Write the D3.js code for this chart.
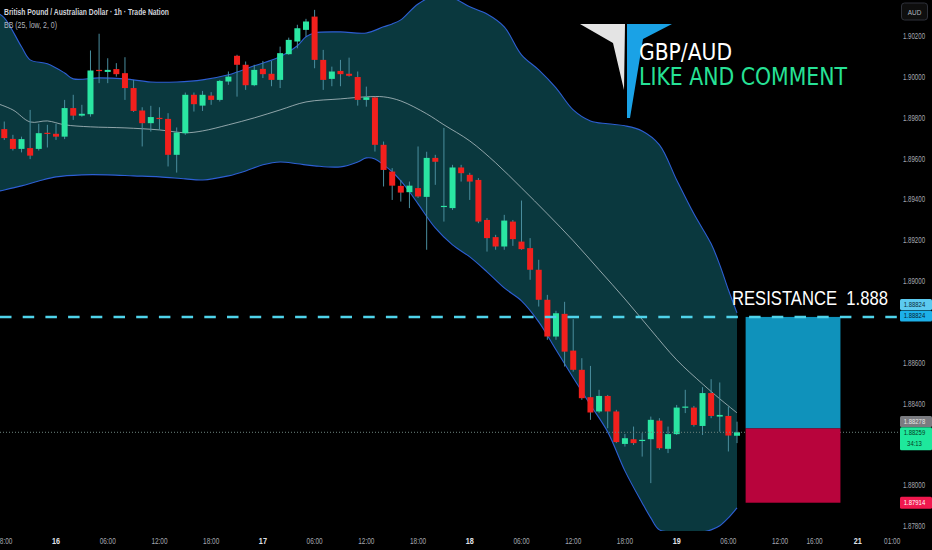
<!DOCTYPE html>
<html>
<head>
<meta charset="utf-8">
<script src="https://cdn.jsdelivr.net/npm/d3@7"></script>
<style>
  html, body { margin: 0; padding: 0; background: #000; overflow: hidden; }
  .canvas svg { display: block; }
</style>
</head>
<body>
<div class="canvas"></div>
<script>
// bars: hour index from Sep 16 00:00 (first bar is 15th 18:00)
const firstBar = -6;
const openP = [1.89744,1.89696,1.89647,1.89651,1.89647,1.89726,1.89721,1.89707,1.89847,1.89810,
  1.89817,1.90034,1.90024,1.90038,1.90018,1.89945,1.89835,1.89773,1.89799,1.89794,
  1.89618,1.89724,1.89912,1.89859,1.89908,1.89887,1.89977,1.90103,1.90059,1.89959,
  1.90039,1.90015,1.89985,1.90111,1.90173,1.90230,1.90295,1.90083,1.89990,1.90029,
  1.90015,1.89999,1.89887,1.89899,1.89667,1.89536,1.89466,1.89435,1.89455,1.89412,
  1.89603,1.89365,1.89357,1.89556,1.89520,1.89495,1.89299,1.89215,1.89169,1.89291,
  1.89193,1.89161,1.89055,1.88908,1.88728,1.88839,1.88659,1.88565,1.88431,1.88361,
  1.88437,1.88361,1.88202,1.88225,1.88217,1.88225,1.88316,1.88178,1.88250,1.88380,
  1.88380,1.88290,1.88451,1.88336,1.88339,1.88242];
const highP = [1.89781,1.89716,1.89707,1.89838,1.89770,1.89765,1.89770,1.89887,1.89912,1.89863,
  1.90129,1.90211,1.90091,1.90067,1.90096,1.89985,1.89851,1.89858,1.89851,1.89822,
  1.89752,1.89923,1.89923,1.89931,1.89925,1.89985,1.90026,1.90108,1.90075,1.90059,
  1.90078,1.90078,1.90148,1.90192,1.90255,1.90284,1.90328,1.90132,1.90050,1.90083,
  1.90094,1.90026,1.89952,1.89903,1.89683,1.89553,1.89495,1.89487,1.89659,1.89633,
  1.89618,1.89750,1.89569,1.89569,1.89530,1.89504,1.89308,1.89226,1.89324,1.89299,
  1.89394,1.89210,1.89104,1.88932,1.88854,1.88898,1.88813,1.88622,1.88584,1.88467,
  1.88442,1.88369,1.88251,1.88287,1.88255,1.88336,1.88328,1.88287,1.88393,1.88467,
  1.88388,1.88480,1.88519,1.88503,1.88385,1.88311];
const lowP = [1.89691,1.89639,1.89630,1.89597,1.89639,1.89654,1.89691,1.89695,1.89789,1.89805,
  1.89805,1.89969,1.89969,1.90001,1.89887,1.89828,1.89659,1.89732,1.89740,1.89561,
  1.89531,1.89716,1.89830,1.89833,1.89863,1.89879,1.89961,1.89903,1.89936,1.89954,
  1.89994,1.89954,1.89945,1.90108,1.90140,1.90197,1.90042,1.89936,1.89954,1.89954,
  1.90001,1.89859,1.89854,1.89634,1.89463,1.89397,1.89389,1.89357,1.89407,1.89153,
  1.89471,1.89291,1.89348,1.89487,1.89397,1.89283,1.89144,1.89153,1.89153,1.89172,
  1.89153,1.89006,1.88875,1.88712,1.88712,1.88581,1.88556,1.88418,1.88320,1.88353,
  1.88279,1.88206,1.88189,1.88197,1.88140,1.88010,1.88173,1.88157,1.88246,1.88353,
  1.88287,1.88246,1.88328,1.88262,1.88165,1.88206];
const closeP = [1.89700,1.89647,1.89695,1.89614,1.89724,1.89721,1.89707,1.89847,1.89810,1.89819,
  1.90031,1.90029,1.90034,1.90013,1.89945,1.89833,1.89773,1.89803,1.89794,1.89618,
  1.89727,1.89912,1.89866,1.89912,1.89887,1.89980,1.90001,1.90059,1.89959,1.90034,
  1.90013,1.89985,1.90116,1.90181,1.90238,1.90271,1.90083,1.89985,1.90026,1.90013,
  1.90005,1.89887,1.89900,1.89667,1.89544,1.89467,1.89433,1.89467,1.89414,1.89603,
  1.89584,1.89368,1.89556,1.89528,1.89487,1.89291,1.89210,1.89169,1.89296,1.89205,
  1.89156,1.89055,1.88908,1.88728,1.88842,1.88654,1.88565,1.88426,1.88356,1.88437,
  1.88361,1.88211,1.88230,1.88206,1.88222,1.88320,1.88181,1.88250,1.88380,1.88385,
  1.88295,1.88451,1.88339,1.88344,1.88243,1.88259];

// Bollinger bands (25, low, 2)
const bbUpperBars = [-7,-6,-4,-3,-1,1,2,5,8,11,14,17,20,23,26,28,29,30,33,36,38,39,40,42,44,46,48,50,52,54,56,58,60,62,64,66,68,70,72,74,76,77,78,79];
const bbUpper = [1.90318,1.90289,1.90147,1.90083,1.90064,1.90019,1.89990,1.89995,1.89990,1.89975,
  1.89975,1.89985,1.90010,1.90054,1.90098,1.90152,1.90196,1.90215,1.90220,1.90215,
  1.90245,1.90259,1.90279,1.90357,1.90397,1.90387,1.90343,1.90308,1.90245,1.90108,
  1.90034,1.89946,1.89838,1.89784,1.89770,1.89760,1.89735,1.89667,1.89495,1.89329,
  1.89182,1.89079,1.88957,1.88844];
const bbLowerBars = [-7,-6,-4,-2,0,3,6,9,12,15,17,20,22,24,26,28,30,33,35,36,37,38,39,40,41,42,44,46,48,50,52,54,56,58,60,62,64,66,68,69,70,72,75,76,77,78,79];
const bbLower = [1.89437,1.89446,1.89466,1.89490,1.89510,1.89520,1.89520,1.89515,1.89510,1.89500,
  1.89495,1.89515,1.89539,1.89569,1.89583,1.89574,1.89564,1.89559,1.89583,1.89603,
  1.89598,1.89569,1.89535,1.89490,1.89437,1.89378,1.89260,1.89177,1.89118,1.89045,
  1.88966,1.88903,1.88800,1.88663,1.88526,1.88393,1.88261,1.88070,1.87913,1.87840,
  1.87781,1.87771,1.87771,1.87781,1.87801,1.87840,1.87889];
const bbBasisBars = [-7,-5,-3,-1,1,4,8,12,15,17,20,23,26,29,33,36,38,40,43,45,48,51,54,57,60,63,66,69,72,75,77,79];
const bbBasis = [1.89872,1.89838,1.89779,1.89784,1.89765,1.89755,1.89750,1.89740,1.89726,1.89735,
  1.89765,1.89799,1.89838,1.89877,1.89892,1.89902,1.89902,1.89882,1.89819,1.89765,
  1.89686,1.89579,1.89456,1.89329,1.89197,1.89055,1.88912,1.88761,1.88614,1.88496,
  1.88423,1.88354];

// axis ticks
const priceTicks = [1.902,1.900,1.898,1.896,1.894,1.892,1.890,1.888,1.886,1.884,1.882,1.880,1.878];
const timeTickBars = [-6,0,6,12,18,24,30,36,42,48,54,60,66,72,78,84,88,93,97];
const timeTickLabels = ['18:00','16','06:00','12:00','18:00','17','06:00','12:00','18:00','18','06:00','12:00','18:00','19','06:00','12:00','16:00','21','01:00'];
const dayLabels = ['16','17','18','19','21'];

// drawings
const resistance = 1.88824;
const lastPrice = 1.88259;
const entryPrice = 1.88278;
const stopPrice = 1.87914;
const posStartBar = 80;
const posEndBar = 91;

const svg = d3.select('.canvas')
  .append('svg')
  .attr('width', 932)
  .attr('height', 550)
  .style('font-family', "'Liberation Sans', Arial, sans-serif");

svg.append('rect').attr('width', 932).attr('height', 550).attr('fill', '#000');

// dimensions
const plotWidth = 898;
const plotHeight = 531;

// scales
const x = d3.scaleLinear().domain([0, 79]).range([56, 737]);
const y = d3.scaleLinear().domain([1.878, 1.902]).range([526, 36]);

svg.append('clipPath').attr('id', 'plot')
  .append('rect').attr('width', plotWidth).attr('height', plotHeight);

const graph = svg.append('g').attr('clip-path', 'url(#plot)');

// narrow text (the screenshot is squeezed horizontally)
const narrowText = (parent, cx, cy, k, str) => parent.append('g')
  .attr('transform', `translate(${cx},${cy}) scale(${k},1)`)
  .append('text')
  .attr('text-anchor', 'middle')
  .text(str);

// bollinger band
const toPts = (bars, vals) => bars.map((b, i) => [b, vals[i]]);
const bandLine = d3.line()
  .x(d => x(d[0]))
  .y(d => y(d[1]))
  .curve(d3.curveCatmullRom);

const upperPts = toPts(bbUpperBars, bbUpper);
const lowerPts = toPts(bbLowerBars, bbLower);
const basisPts = toPts(bbBasisBars, bbBasis);

graph.append('path')
  .attr('d', bandLine(upperPts) + 'L' + bandLine(lowerPts.slice().reverse()).slice(1) + 'Z')
  .attr('fill', '#0a383e');

graph.append('path').attr('d', bandLine(upperPts))
  .attr('fill', 'none').attr('stroke', '#2d5fd3').attr('stroke-width', 1.1);
graph.append('path').attr('d', bandLine(lowerPts))
  .attr('fill', 'none').attr('stroke', '#2d5fd3').attr('stroke-width', 1.1);
graph.append('path').attr('d', bandLine(basisPts))
  .attr('fill', 'none').attr('stroke', '#b9c6cb').attr('stroke-width', 0.9).attr('opacity', 0.85);

// candles
const bars = openP.map((o, i) => ({
  t: firstBar + i, o: o, h: highP[i], l: lowP[i], c: closeP[i]
}));

graph.selectAll('line.wick')
  .data(bars)
  .enter()
  .append('line')
  .attr('class', 'wick')
  .attr('x1', d => x(d.t))
  .attr('x2', d => x(d.t))
  .attr('y1', d => y(d.h))
  .attr('y2', d => y(d.l))
  .attr('stroke', '#4a8e9e')
  .attr('stroke-width', 1);

graph.selectAll('rect.body')
  .data(bars)
  .enter()
  .append('rect')
  .attr('class', 'body')
  .attr('x', d => x(d.t) - 3)
  .attr('width', 6)
  .attr('y', d => y(Math.max(d.o, d.c)))
  .attr('height', d => Math.max(1.2, Math.abs(y(d.o) - y(d.c))))
  .attr('fill', d => d.c >= d.o ? '#2ae6a2' : '#f2201d');

// current price dotted line
svg.append('line')
  .attr('x1', 0).attr('x2', 900)
  .attr('y1', y(lastPrice)).attr('y2', y(lastPrice))
  .attr('stroke', '#6e8580').attr('stroke-width', 1)
  .attr('stroke-dasharray', '1,2');

// long/short position box
svg.append('rect')
  .attr('x', x(posStartBar)).attr('width', x(posEndBar) - x(posStartBar))
  .attr('y', y(resistance)).attr('height', y(entryPrice) - y(resistance))
  .attr('fill', '#0f92bb');
svg.append('rect')
  .attr('x', x(posStartBar)).attr('width', x(posEndBar) - x(posStartBar))
  .attr('y', y(entryPrice)).attr('height', y(stopPrice) - y(entryPrice))
  .attr('fill', '#b8043c');

// resistance line
svg.append('line')
  .attr('x1', 0).attr('x2', 898)
  .attr('y1', y(resistance)).attr('y2', y(resistance))
  .attr('stroke', '#4fd3ea').attr('stroke-width', 2.6)
  .attr('stroke-dasharray', '11.5,11.2');

svg.append('text')
  .attr('x', 732).attr('y', 305)
  .attr('fill', '#fff')
  .attr('font-size', 21)
  .style('white-space', 'pre')
  .attr('textLength', 156).attr('lengthAdjust', 'spacingAndGlyphs')
  .text('RESISTANCE  ' + d3.format('.3f')(resistance));

// price axis (the 1.888 tick sits under the resistance tags)
const yAxisGroup = svg.append('g')
  .attr('font-size', 8.5)
  .attr('fill', '#a5a8b0');
priceTicks
  .filter(p => Math.abs(y(p) - y(resistance)) > 12)
  .forEach(p => narrowText(yAxisGroup, 914, y(p) + 3, 0.72, d3.format('.5f')(p)));

// time axis
const xAxisGroup = svg.append('g').attr('font-size', 8.5);
timeTickBars.forEach((b, i) => {
  const isDay = dayLabels.includes(timeTickLabels[i]);
  narrowText(xAxisGroup, x(b), 544, 0.76, timeTickLabels[i])
    .attr('font-size', isDay ? 9.5 : 8.5)
    .attr('font-weight', isDay ? 'bold' : 'normal')
    .attr('fill', isDay ? '#e0e3ea' : '#a5a8b0');
});

// axis price labels
const priceTag = (yTop, h, fill, color, lines) => {
  svg.append('rect')
    .attr('x', 900).attr('y', yTop).attr('width', 32).attr('height', h)
    .attr('rx', 1.5).attr('fill', fill);
  const g = svg.append('g').attr('font-size', 7.8).attr('fill', color);
  lines.forEach((s, i) => narrowText(g, 914.5, yTop + 8 + i * 11, 0.76, s));
};
priceTag(y(resistance) - 18, 11, '#5ccaf0', '#0b2a36', [d3.format('.5f')(resistance)]);
priceTag(y(resistance) - 6.5, 11, '#1db0e9', '#062230', [d3.format('.5f')(resistance)]);
priceTag(y(entryPrice) - 12.5, 11, '#7a7b80', '#e6e6e6', [d3.format('.5f')(entryPrice)]);
priceTag(y(lastPrice) - 5, 23, '#1ee89c', '#063a22', [d3.format('.5f')(lastPrice), '34:13']);
priceTag(y(stopPrice) - 6, 12, '#f0184e', '#ffffff', [d3.format('.5f')(stopPrice)]);

// currency button
svg.append('rect')
  .attr('x', 901.5).attr('y', 3).attr('width', 26).attr('height', 17)
  .attr('rx', 3).attr('fill', '#0e0e0e').attr('stroke', '#2e313a');
narrowText(svg, 914.5, 14.5, 0.8, 'AUD')
  .attr('font-size', 8).attr('fill', '#b2b5be');

// header
svg.append('text')
  .attr('x', 4).attr('y', 15)
  .attr('font-size', 9).attr('font-weight', 'bold').attr('fill', '#d1d4dc')
  .attr('textLength', 165).attr('lengthAdjust', 'spacingAndGlyphs')
  .text('British Pound / Australian Dollar \u00b7 1h \u00b7 Trade Nation');
svg.append('text')
  .attr('x', 4).attr('y', 28)
  .attr('font-size', 9).attr('fill', '#b2b5be')
  .attr('textLength', 53).attr('lengthAdjust', 'spacingAndGlyphs')
  .text('BB (25, low, 2, 0)');

// logo
const logo = svg.append('g').style('font-family', "'DejaVu Sans', Verdana, sans-serif");
logo.append('polygon')
  .attr('points', '580,24 625,24 624,90 613,43')
  .attr('fill', '#e4e4e4');
logo.append('polygon')
  .attr('points', '627,24 672,24 643,39 630,118 627,118')
  .attr('fill', '#1aa2e6');
logo.append('text')
  .attr('x', 639).attr('y', 59.5)
  .attr('font-size', 22.5).attr('fill', '#ffffff')
  .attr('textLength', 93).attr('lengthAdjust', 'spacingAndGlyphs')
  .text('GBP/AUD');
logo.append('text')
  .attr('x', 639).attr('y', 85)
  .attr('font-size', 24.5).attr('fill', '#26e296')
  .attr('textLength', 208).attr('lengthAdjust', 'spacingAndGlyphs')
  .text('LIKE AND COMMENT');
</script>
</body>
</html>
